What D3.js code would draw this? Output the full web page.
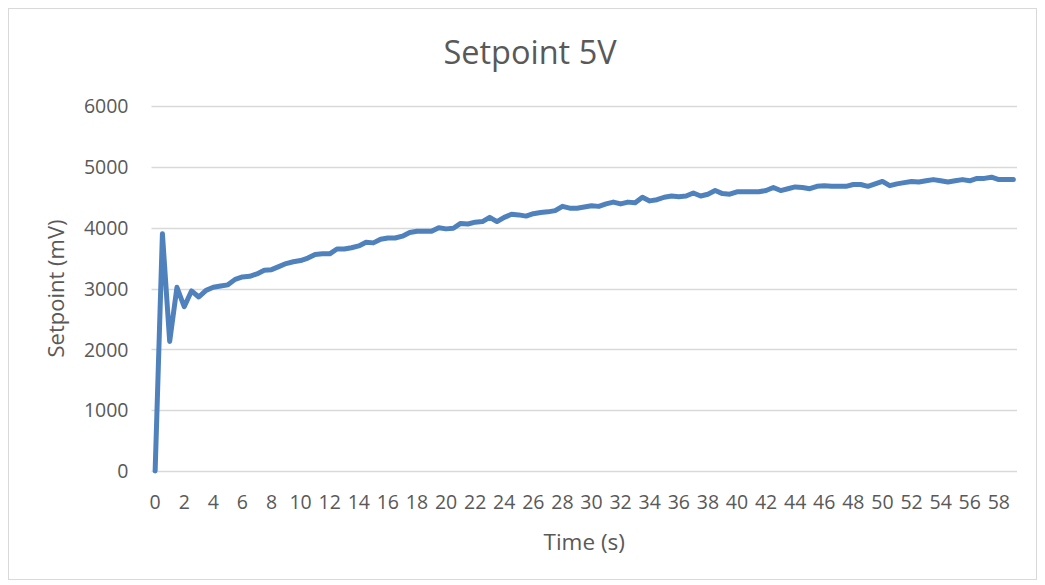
<!DOCTYPE html>
<html>
<head>
<meta charset="utf-8">
<script src="https://cdn.jsdelivr.net/npm/d3@7"></script>
<style>
  html, body { margin: 0; padding: 0; background: #fff; }
  svg { display: block; }
  text { font-family: "Open Sans", "Noto Sans", sans-serif; fill: #595959; }
</style>
</head>
<body>
<script>
const title = "Setpoint 5V";
const xTitle = "Time (s)";
const yTitle = "Setpoint (mV)";

const times = [0,0.5,1,1.5,2,2.5,3,3.5,4,4.5,5,5.5,6,6.5,7,7.5,8,8.5,9,9.5,
  10,10.5,11,11.5,12,12.5,13,13.5,14,14.5,15,15.5,16,16.5,17,17.5,18,18.5,19,19.5,
  20,20.5,21,21.5,22,22.5,23,23.5,24,24.5,25,25.5,26,26.5,27,27.5,28,28.5,29,29.5,
  30,30.5,31,31.5,32,32.5,33,33.5,34,34.5,35,35.5,36,36.5,37,37.5,38,38.5,39,39.5,
  40,40.5,41,41.5,42,42.5,43,43.5,44,44.5,45,45.5,46,46.5,47,47.5,48,48.5,49,49.5,
  50,50.5,51,51.5,52,52.5,53,53.5,54,54.5,55,55.5,56,56.5,57,57.5,58,58.5,59];

const setpoint = [0,3900,2130,3020,2700,2960,2860,2970,3020,3040,
  3060,3150,3190,3200,3240,3300,3310,3360,3410,3440,
  3460,3500,3560,3570,3570,3650,3650,3670,3700,3760,
  3750,3810,3830,3830,3860,3920,3940,3940,3940,4000,
  3980,3990,4070,4060,4090,4100,4170,4100,4170,4220,
  4210,4190,4230,4250,4260,4280,4350,4320,4320,4340,
  4360,4350,4390,4420,4390,4420,4410,4500,4440,4460,
  4500,4520,4510,4520,4570,4520,4550,4610,4560,4550,
  4590,4590,4590,4590,4610,4660,4610,4640,4670,4660,
  4640,4680,4690,4680,4680,4680,4710,4710,4680,4720,
  4760,4690,4720,4740,4760,4750,4770,4790,4770,4750,
  4770,4790,4770,4810,4810,4830,4790,4790,4790];

const yTicks = [0,1000,2000,3000,4000,5000,6000];
const xTickLabels = [0,2,4,6,8,10,12,14,16,18,20,22,24,26,28,30,32,34,36,38,40,42,44,46,48,50,52,54,56,58];

const W = 1045, H = 585;
const plot = { left: 151.5, right: 1017, top: 106, bottom: 471 };

const svg = d3.select("body").append("svg").attr("width", W).attr("height", H);

svg.append("rect").attr("x", 8.5).attr("y", 8.5).attr("width", 1028).attr("height", 571)
  .attr("fill", "#fff").attr("stroke", "#d9d9d9").attr("stroke-width", 1);

const x = d3.scaleBand().domain(times).range([plot.left, plot.right]).paddingInner(0).paddingOuter(0);
const y = d3.scaleLinear().domain([0, 6000]).range([plot.bottom, plot.top]);

// gridlines
svg.append("g").selectAll("line").data(yTicks).join("line")
  .attr("x1", plot.left).attr("x2", plot.right)
  .attr("y1", d => Math.round(y(d)) + 0.5).attr("y2", d => Math.round(y(d)) + 0.5)
  .attr("stroke", "#d9d9d9").attr("stroke-width", 1.5);

// y axis labels
const yAxis = d3.axisLeft(y).tickValues(yTicks).tickSize(0).tickPadding(0).tickFormat(d3.format("d"));
const gy = svg.append("g").attr("transform", `translate(${plot.left - 23},0)`).call(yAxis);
gy.select(".domain").remove();
gy.selectAll("text").style("font-size", "19.5px").attr("fill", "#595959").attr("dy", "0.35em");

// x axis labels
const xAxis = d3.axisBottom(x).tickValues(xTickLabels).tickSize(0).tickPadding(0).tickFormat(d => d);
const gx = svg.append("g").attr("transform", `translate(0,${plot.bottom + 24})`).call(xAxis);
gx.select(".domain").remove();
gx.selectAll("text").style("font-size", "19.5px").attr("fill", "#595959").attr("dy", "0.72em");

// line
const line = d3.line()
  .x((d, i) => x(times[i]) + x.bandwidth() / 2)
  .y(d => y(d));
svg.append("path").datum(setpoint)
  .attr("d", line)
  .attr("fill", "none")
  .attr("stroke", "#4f81bd")
  .attr("stroke-width", 5)
  .attr("stroke-linejoin", "round")
  .attr("stroke-linecap", "round");

// titles
svg.append("text").attr("x", 530).attr("y", 64).attr("text-anchor", "middle")
  .style("font-size", "32.5px").text(title);
svg.append("text").attr("x", (plot.left + plot.right) / 2).attr("y", 550).attr("text-anchor", "middle")
  .style("font-size", "22.5px").text(xTitle);
svg.append("text").attr("transform", `translate(64,${(plot.top + plot.bottom) / 2}) rotate(-90)`)
  .attr("text-anchor", "middle").style("font-size", "22px").text(yTitle);
</script>
</body>
</html>
